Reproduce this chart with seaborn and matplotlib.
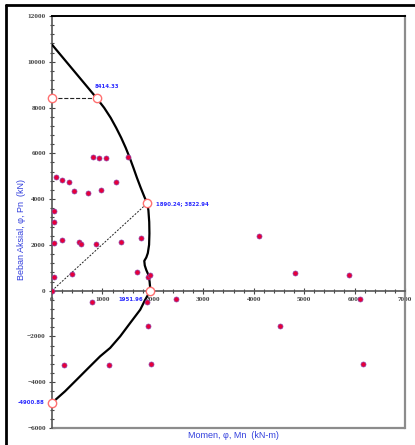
import matplotlib
matplotlib.use("Agg")
import matplotlib.pyplot as plt
import seaborn as sns
import pandas as pd
from matplotlib.lines import Line2D
from matplotlib.ticker import MultipleLocator

sns.set_theme(style="white")

# Design interaction curve  phi*Mn (kN-m) vs phi*Pn (kN)
curve_mn = [0, 885, 1034, 1163, 1272, 1372, 1461, 1541, 1614, 1684, 1759, 1839,
            1890.24, 1912, 1928, 1932, 1925, 1900, 1870, 1830, 1840, 1870, 1910,
            1935, 1951.96, 1849, 1750, 1551, 1352, 1153, 954, 722, 491, 258, 0]
curve_pn = [10750, 8414.33, 7991, 7555, 7118, 6681, 6245, 5808, 5371, 4934, 4498, 4061,
            3822.94, 3500, 3000, 2500, 2000, 1640, 1450, 1300, 1100, 900, 700,
            400, 0, -393, -830, -1410, -1996, -2502, -2869, -3376, -3886, -4397, -4900.88]

# Key points on the curve
key_mn = [0, 885, 1890.24, 1951.96, 0]
key_pn = [8414.33, 8414.33, 3822.94, 0, -4900.88]

# Factored load combinations (Mu, Pu)
load_mn = [80, 200, 340, 440, 720, 970, 1270,
           820, 930, 1070, 1510,
           40, 40, 40, 200, 540, 580, 870, 1370,
           30, 400, 0, 1680, 1770, 1900, 1950, 4100, 4820, 5880,
           800, 1880, 2450, 6100, 1900, 4530,
           230, 1130, 1970, 6160]
load_pn = [4980, 4840, 4760, 4370, 4280, 4410, 4760,
           5840, 5800, 5800, 5840,
           3490, 3010, 2080, 2230, 2140, 2050, 2050, 2140,
           610, 710, 0, 800, 2300, 600, 700, 2400, 790, 690,
           -480, -500, -380, -380, -1530, -1540,
           -3230, -3230, -3220, -3220]

x_label = "Momen, \u03c6, Mn  (kN-m)"
y_label = "Beban Aksial, \u03c6, Pn  (kN)"

curve = pd.DataFrame({"Mn": curve_mn, "Pn": curve_pn})
loads = pd.DataFrame({"Mn": load_mn, "Pn": load_pn})

fig = plt.figure(figsize=(4.15, 4.45), dpi=100)
ax = fig.add_axes([52 / 415, 17 / 445, 353 / 415, 412 / 445])
ax.set_xlim(0, 7000)
ax.set_ylim(-6000, 12000)

# reference dashed lines
ax.plot([0, key_mn[1]], [key_pn[0], key_pn[1]], ls="--", color="#222222", lw=0.8, zorder=2)
ax.plot([0, key_mn[2]], [0, key_pn[2]], ls=(0, (2, 1.5)), color="#222222", lw=0.7, zorder=2)

sns.lineplot(data=curve, x="Mn", y="Pn", sort=False, estimator=None,
             color="black", lw=1.6, ax=ax, zorder=3)
sns.scatterplot(data=loads, x="Mn", y="Pn", marker="o", s=13,
                color="#e6003a", edgecolor="#9040a8", linewidth=0.5, ax=ax, zorder=4)
ax.plot(key_mn, key_pn, ls="none", marker="o", ms=6, mfc="white",
        mec="#ff7070", mew=1.0, zorder=5, clip_on=False)

# value labels
lab = dict(color="#2b2bff", fontsize=3.9, fontweight="bold", family="DejaVu Sans")
ax.text(850, 8920, f"{key_pn[0]:.2f}", ha="left", va="center", **lab)
ax.text(2060, key_pn[2], f"{key_mn[2]:.2f}; {key_pn[2]:.2f}", ha="left", va="center", **lab)
ax.text(1810, -390, f"{key_mn[3]:.2f}", ha="right", va="center", **lab)
ax.text(-140, key_pn[4], f"{key_pn[4]:.2f}", ha="right", va="center", clip_on=False, **lab)

# axes through the origin
for s in ax.spines.values():
    s.set_linewidth(1.2)
ax.spines["left"].set_color("#555555")
ax.spines["bottom"].set_position(("data", 0))
ax.spines["bottom"].set_color("#555555")
ax.spines["top"].set_color("black")
ax.spines["top"].set_linewidth(1.4)
ax.spines["right"].set_color("#8c8c8c")
ax.spines["right"].set_linewidth(1.6)
ax.plot([0, 1], [0, 0], transform=ax.transAxes, color="#8c8c8c", lw=1.6, clip_on=False)

ax.xaxis.set_major_locator(MultipleLocator(1000))
ax.xaxis.set_minor_locator(MultipleLocator(200))
ax.yaxis.set_major_locator(MultipleLocator(2000))
ax.yaxis.set_minor_locator(MultipleLocator(400))
ax.tick_params(which="both", direction="inout", color="#444444", width=0.8,
               bottom=True, left=True, labelsize=5.2, labelcolor="#444444")
ax.tick_params(which="major", length=5, pad=2)
ax.tick_params(which="minor", length=3.5)
for t in ax.get_xticklabels() + ax.get_yticklabels():
    t.set_family("Liberation Serif")
    t.set_fontweight("bold")
ax.set_xlabel("")
ax.set_ylabel("")

fig.text(233 / 415, 1 - 436 / 445, x_label, ha="center", va="center",
         color="#3340dd", fontsize=6.5, family="Liberation Sans")
fig.text(22 / 415, 1 - 230 / 445, y_label, ha="center", va="center", rotation=90,
         color="#3340dd", fontsize=6.5, family="Liberation Sans")

# outer frame
fig.add_artist(Line2D([6 / 415, 6 / 415], [0, 1 - 5 / 445], transform=fig.transFigure,
                      color="black", lw=2))
fig.add_artist(Line2D([6 / 415, 1], [1 - 5 / 445, 1 - 5 / 445], transform=fig.transFigure,
                      color="black", lw=2))

fig.savefig("out.png", dpi=100)
